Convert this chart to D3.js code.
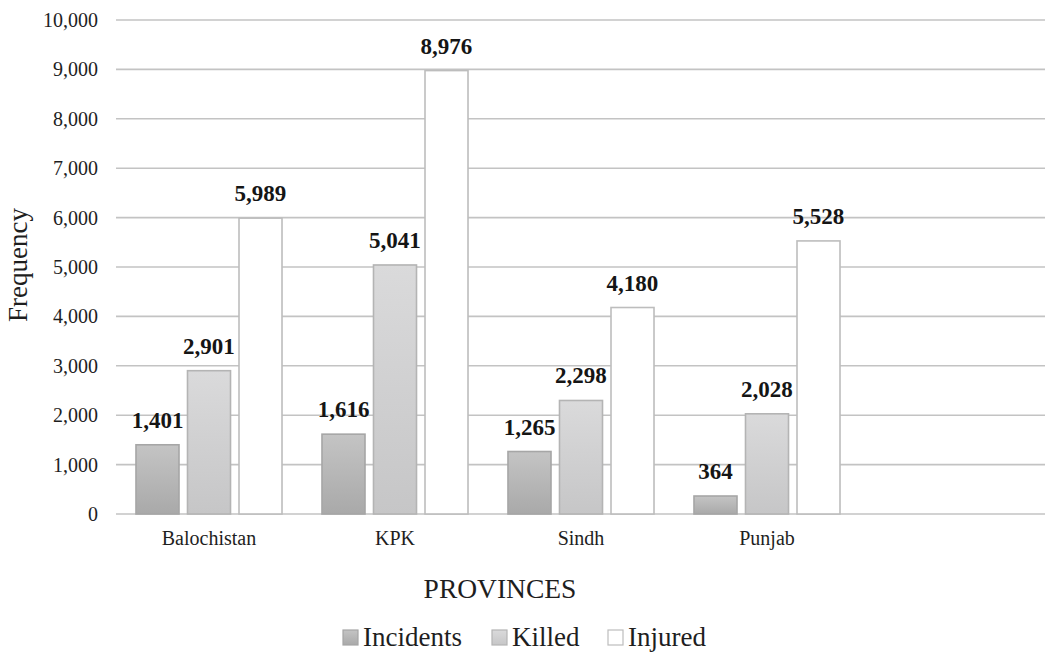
<!DOCTYPE html>
<html>
<head>
<meta charset="utf-8">
<script src="https://cdn.jsdelivr.net/npm/d3@7"></script>
<style>
  body { margin: 0; background: #fff; }
</style>
</head>
<body>
<svg id="chart" width="1045" height="653"></svg>
<script>
// data
const provinces = ["Balochistan", "KPK", "Sindh", "Punjab", ""];
const seriesNames = ["Incidents", "Killed", "Injured"];
const incidents = [1401, 1616, 1265, 364];
const killed = [2901, 5041, 2298, 2028];
const injured = [5989, 8976, 4180, 5528];
const yTicks = [0, 1000, 2000, 3000, 4000, 5000, 6000, 7000, 8000, 9000, 10000];

const dims = { width: 1045, height: 653, margin: { top: 20, right: -1, bottom: 139, left: 116 } };
const serif = "'Liberation Serif', 'Times New Roman', Times, serif";
const ink = "#1e1e1e";

const svg = d3.select("#chart")
  .style("font-family", serif);

// gradients for bar fills
const defs = svg.append("defs");
function addGrad(id, top, bottom) {
  const g = defs.append("linearGradient").attr("id", id)
    .attr("x1", 0).attr("y1", 0).attr("x2", 0).attr("y2", 1);
  g.append("stop").attr("offset", "0%").attr("stop-color", top);
  g.append("stop").attr("offset", "100%").attr("stop-color", bottom);
}
addGrad("g-inc", "#c4c4c4", "#a9a9a9");
addGrad("g-kil", "#dadadb", "#c6c6c7");
addGrad("g-inj", "#ffffff", "#ffffff");

const fills = ["url(#g-inc)", "url(#g-kil)", "url(#g-inj)"];
const strokes = ["#a6a6a6", "#b4b4b4", "#bdbdbd"];

const y = d3.scaleLinear()
  .domain([0, 10000])
  .range([dims.height - dims.margin.bottom, dims.margin.top]);

const x0 = d3.scaleBand()
  .domain(provinces)
  .range([dims.margin.left, dims.width - dims.margin.right])
  .paddingInner(0.215)
  .paddingOuter(0.1075);

const x1 = d3.scaleBand()
  .domain(seriesNames)
  .range([0, x0.bandwidth()])
  .paddingInner(0.165);

// gridlines
svg.append("g")
  .selectAll("line")
  .data(yTicks)
  .enter()
  .append("line")
    .attr("x1", dims.margin.left)
    .attr("x2", dims.width)
    .attr("y1", d => y(d))
    .attr("y2", d => y(d))
    .attr("stroke", "#c3c3c3")
    .attr("stroke-width", 1.6);

// y tick labels
svg.append("g")
  .selectAll("text")
  .data(yTicks)
  .enter()
  .append("text")
    .attr("font-size", 20)
    .attr("fill", ink)
    .attr("x", 98)
    .attr("y", d => y(d) + 7)
    .attr("text-anchor", "end")
    .text(d => d3.format(",")(d));

// rows for bars
const rows = provinces.slice(0, 4).map((p, i) => ({
  cat: p,
  values: [incidents[i], killed[i], injured[i]]
}));

const groups = svg.append("g")
  .selectAll("g")
  .data(rows)
  .enter()
  .append("g")
    .attr("transform", d => `translate(${x0(d.cat)},0)`);

const bars = groups.selectAll("g")
  .data(d => d.values.map((v, k) => ({ key: seriesNames[k], k: k, v: v })))
  .enter()
  .append("g");

bars.append("rect")
  .attr("x", d => x1(d.key))
  .attr("y", d => y(d.v))
  .attr("width", x1.bandwidth())
  .attr("height", d => y(0) - y(d.v))
  .attr("fill", d => fills[d.k])
  .attr("stroke", d => strokes[d.k])
  .attr("stroke-width", 1.6);

// value labels
bars.append("text")
  .attr("font-size", 23)
  .attr("font-weight", "bold")
  .attr("fill", "#151515")
  .attr("x", d => x1(d.key) + x1.bandwidth() / 2)
  .attr("y", d => y(d.v) - 17)
  .attr("text-anchor", "middle")
  .text(d => d3.format(",")(d.v));

// category labels
svg.append("g")
  .selectAll("text")
  .data(provinces)
  .enter()
  .append("text")
    .attr("font-size", 20)
    .attr("fill", ink)
    .attr("x", d => x0(d) + x0.bandwidth() / 2)
    .attr("y", 545)
    .attr("text-anchor", "middle")
    .text(d => d);

// axis titles
svg.append("text")
  .attr("font-size", 27.5)
  .attr("fill", ink)
  .attr("x", 500)
  .attr("y", 598)
  .attr("text-anchor", "middle")
  .text("PROVINCES");

svg.append("text")
  .attr("font-size", 27)
  .attr("fill", ink)
  .attr("transform", "translate(27,265) rotate(-90)")
  .attr("text-anchor", "middle")
  .text("Frequency");

// legend
const legendX = [343, 492, 608];
const legend = svg.append("g")
  .selectAll("g")
  .data(seriesNames)
  .enter()
  .append("g")
    .attr("transform", (d, i) => `translate(${legendX[i]},630)`);

legend.append("rect")
  .attr("width", 15)
  .attr("height", 15)
  .attr("fill", (d, i) => fills[i])
  .attr("stroke", (d, i) => strokes[i])
  .attr("stroke-width", 1.2);

legend.append("text")
  .attr("font-size", 27)
  .attr("fill", ink)
  .attr("x", 20)
  .attr("y", 16)
  .text(d => d);
</script>
</body>
</html>
